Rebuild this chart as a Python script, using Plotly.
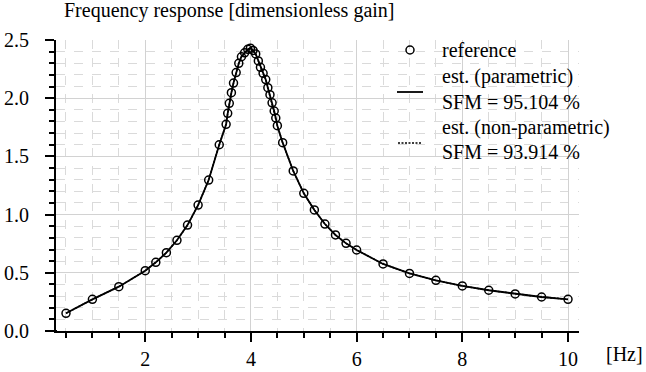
import plotly.graph_objects as go

# ---------------- data ----------------
freq_hz = [0.5, 1.0, 1.5, 2.0, 2.2, 2.4, 2.6, 2.8, 3.0, 3.2, 3.4,
           3.53, 3.56, 3.59, 3.63, 3.67, 3.72, 3.77, 3.82, 3.88, 3.94, 3.99,
           4.04, 4.09, 4.14, 4.18, 4.23, 4.28, 4.32, 4.36, 4.40, 4.44, 4.47, 4.50,
           4.6, 4.8, 5.0, 5.2, 5.4, 5.6, 5.8, 6.0, 6.5, 7.0, 7.5, 8.0, 8.5, 9.0, 9.5, 10.0]

gain_reference = [0.152, 0.272, 0.381, 0.518, 0.590, 0.673, 0.779, 0.910, 1.082, 1.297, 1.600,
                  1.776, 1.870, 1.956, 2.047, 2.130, 2.220, 2.300, 2.356, 2.390, 2.420, 2.430,
                  2.410, 2.380, 2.320, 2.265, 2.214, 2.160, 2.090, 2.030, 1.960, 1.890, 1.830, 1.764,
                  1.618, 1.375, 1.183, 1.040, 0.919, 0.825, 0.753, 0.696, 0.576, 0.495, 0.435, 0.387,
                  0.350, 0.318, 0.292, 0.272]

gain_parametric = [0.152, 0.272, 0.381, 0.518, 0.590, 0.673, 0.779, 0.910, 1.082, 1.297, 1.600,
                   1.776, 1.870, 1.956, 2.047, 2.130, 2.220, 2.300, 2.356, 2.390, 2.420, 2.430,
                   2.410, 2.380, 2.320, 2.265, 2.214, 2.160, 2.090, 2.030, 1.960, 1.890, 1.830, 1.764,
                   1.618, 1.375, 1.183, 1.040, 0.919, 0.825, 0.753, 0.696, 0.576, 0.495, 0.435, 0.387,
                   0.350, 0.318, 0.292, 0.272]

gain_nonparametric = [0.152, 0.272, 0.381, 0.518, 0.590, 0.673, 0.779, 0.910, 1.082, 1.297, 1.600,
                      1.776, 1.870, 1.956, 2.047, 2.130, 2.220, 2.300, 2.356, 2.390, 2.415, 2.425,
                      2.405, 2.380, 2.320, 2.265, 2.214, 2.160, 2.090, 2.030, 1.960, 1.890, 1.830, 1.764,
                      1.618, 1.375, 1.183, 1.040, 0.919, 0.825, 0.753, 0.696, 0.576, 0.495, 0.435, 0.387,
                      0.350, 0.318, 0.292, 0.272]

legend_labels = ["reference", "est. (parametric)", "SFM = 95.104 %",
                 "est. (non-parametric)", "SFM = 93.914 %"]
chart_title = "Frequency response [dimensionless gain]"
x_unit = "[Hz]"
x_range = [0.311, 10.208]
y_range = [0.0, 2.5]

# ---------------- layout helpers (pixel -> paper) ----------------
W, H = 646, 372
L, R, T, B = 56, 579, 40, 331


def px(x):
    return (x - L) / (R - L)


def py(y):
    return (B - y) / (B - T)


FONT = "Liberation Serif"
FS = 20

fig = go.Figure()
fig.add_trace(go.Scatter(x=freq_hz, y=gain_nonparametric, mode="lines",
                         name=legend_labels[3],
                         line=dict(color="black", width=1.5, dash="2px,1.5px"),
                         showlegend=False))
fig.add_trace(go.Scatter(x=freq_hz, y=gain_parametric, mode="lines",
                         name=legend_labels[1],
                         line=dict(color="black", width=1.8),
                         showlegend=False))
fig.add_trace(go.Scatter(x=freq_hz, y=gain_reference, mode="markers",
                         name=legend_labels[0],
                         marker=dict(symbol="circle-open", size=8, color="black",
                                     line=dict(width=1.5, color="black")),
                         showlegend=False))

grid_major = "#d2d2d2"
grid_minor = "#dadada"

fig.update_layout(
    width=W, height=H,
    margin=dict(l=L, r=W - R, t=T, b=H - B, pad=0, autoexpand=False),
    paper_bgcolor="white", plot_bgcolor="white",
    font=dict(family=FONT, size=FS, color="black"),
    showlegend=False,
    xaxis=dict(range=x_range, tick0=0, dtick=2, ticks="outside", ticklen=9,
               tickwidth=1.5, tickcolor="black", showline=True, linewidth=2,
               linecolor="black", showgrid=True, gridcolor=grid_major, gridwidth=1,
               zeroline=False, automargin=False, tickfont=dict(family=FONT, size=FS),
               minor=dict(tick0=0, dtick=0.5, ticks="outside", ticklen=5,
                          tickwidth=1.5, tickcolor="black", showgrid=True,
                          gridcolor=grid_minor, griddash="dash", gridwidth=1)),
    yaxis=dict(range=y_range, tick0=0, dtick=0.5, tickformat=".1f",
               ticks="outside", ticklen=9, tickwidth=1.5, tickcolor="black",
               showline=True, linewidth=2, linecolor="black", showgrid=True,
               gridcolor=grid_major, gridwidth=1, zeroline=False, automargin=False,
               ticklabelstandoff=12, tickfont=dict(family=FONT, size=FS),
               minor=dict(tick0=0, dtick=0.1, ticks="outside", ticklen=5,
                          tickwidth=1.5, tickcolor="black", showgrid=True,
                          gridcolor=grid_minor, griddash="dash", gridwidth=1)),
)

# x axis line extends a little to the left of the y spine
fig.add_shape(type="line", xref="paper", yref="paper", x0=px(48), x1=px(57),
              y0=0, y1=0, line=dict(color="black", width=2))

annotations = [
    dict(text=chart_title, x=px(62), y=py(11), xanchor="left", yanchor="middle"),
    dict(text=x_unit, x=px(604), y=py(354), xanchor="left", yanchor="middle"),
]
baselines = [57, 83, 109, 134, 159]
for lab, bl in zip(legend_labels, baselines):
    annotations.append(dict(text=lab, x=px(440), y=py(bl - 7), xanchor="left",
                            yanchor="middle"))
for a in annotations:
    a.update(xref="paper", yref="paper", showarrow=False,
             font=dict(family=FONT, size=FS, color="black"))
fig.update_layout(annotations=annotations)

# legend symbols
fig.add_shape(type="circle", xref="paper", yref="paper", xsizemode="pixel",
              ysizemode="pixel", xanchor=px(410), yanchor=py(50),
              x0=-4, x1=4, y0=-4, y1=4, line=dict(color="black", width=1.5))
fig.add_shape(type="line", xref="paper", yref="paper", x0=px(397), x1=px(423),
              y0=py(92), y1=py(92), line=dict(color="black", width=1.8))
fig.add_shape(type="line", xref="paper", yref="paper", x0=px(398), x1=px(421),
              y0=py(143), y1=py(143), line=dict(color="black", width=1.5, dash="2px,1.5px"))

fig.write_html("out.html", config={"displayModeBar": False},
               post_script="document.body.style.margin='0';document.body.style.overflow='hidden';")
